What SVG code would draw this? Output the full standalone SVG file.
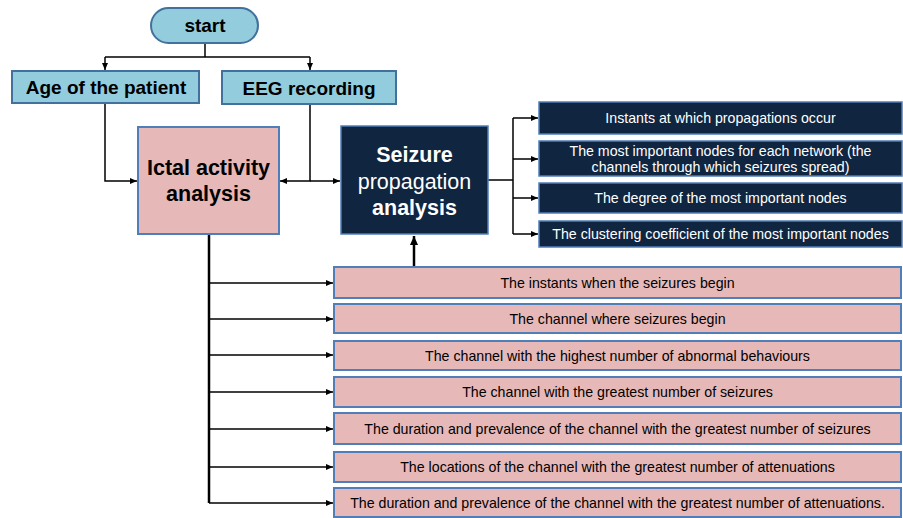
<svg xmlns="http://www.w3.org/2000/svg" width="903" height="518" viewBox="0 0 903 518">
<defs>
<marker id="ah" markerWidth="8" markerHeight="8" refX="7" refY="4" orient="auto" markerUnits="userSpaceOnUse">
<path d="M0,1 L7,4 L0,7 Z" fill="#000"/>
</marker>
<marker id="ahb" markerWidth="10" markerHeight="10" refX="9" refY="5" orient="auto" markerUnits="userSpaceOnUse">
<path d="M0,1 L9,5 L0,9 Z" fill="#000"/>
</marker>
<style>
.blue{fill:#93CDDD;stroke:#41719C;stroke-width:2}
.pink{fill:#E6B9B8;stroke:#4F7EB8;stroke-width:2}
.navy{fill:#10253F;stroke:#4F7EB8;stroke-width:1.5}
.t{font-family:"Liberation Sans",Arial,sans-serif;text-anchor:middle;dominant-baseline:central}
.tb{font-weight:bold;fill:#000}
.lbl{font-size:14.2px;fill:#000}
.wl{font-size:14.2px;fill:#fff}
.big{font-size:21.5px}
.hd{font-size:19px}
.ln{fill:none;stroke:#000;stroke-width:1.5}
.thick{fill:none;stroke:#000;stroke-width:2.5}
</style>
</defs>
<rect width="903" height="518" fill="#fff"/>
<g id="connectors">
<path class="ln" d="M205,43 V57"/>
<path class="ln" d="M105,57 H310"/>
<path class="ln" d="M105,57 V70" marker-end="url(#ah)"/>
<path class="ln" d="M310,57 V70" marker-end="url(#ah)"/>
<path class="ln" d="M105,103 V181 H137" marker-end="url(#ah)"/>
<path class="ln" d="M310,104 V181 H280" marker-end="url(#ah)"/>
<path class="ln" d="M310,181 H340" marker-end="url(#ah)"/>
<path class="ln" d="M488,180 H513"/>
<path class="ln" d="M513,118 V234"/>
<path class="ln" d="M513,118 H538" marker-end="url(#ah)"/>
<path class="ln" d="M513,159 H538" marker-end="url(#ah)"/>
<path class="ln" d="M513,198 H538" marker-end="url(#ah)"/>
<path class="ln" d="M513,234 H538" marker-end="url(#ah)"/>
<path class="thick" d="M209,234 V503"/>
<path class="ln" d="M209,283 H333" marker-end="url(#ah)"/>
<path class="ln" d="M209,319 H333" marker-end="url(#ah)"/>
<path class="ln" d="M209,355 H333" marker-end="url(#ah)"/>
<path class="ln" d="M209,392 H333" marker-end="url(#ah)"/>
<path class="ln" d="M209,429 H333" marker-end="url(#ah)"/>
<path class="ln" d="M209,467 H333" marker-end="url(#ah)"/>
<path class="ln" d="M209,503 H333" marker-end="url(#ah)"/>
<path class="thick" d="M414,267 V236" marker-end="url(#ahb)"/>
</g>
<g id="start">
<rect class="blue" x="151" y="8" width="107" height="35" rx="17.5"/>
<text class="t tb hd" x="205" y="25.5">start</text>
</g>
<g id="age">
<rect class="blue" x="12" y="71" width="187" height="32"/>
<text class="t tb hd" x="106" y="87.5">Age of the patient</text>
</g>
<g id="eeg">
<rect class="blue" x="222" y="71" width="174" height="33"/>
<text class="t tb hd" x="309" y="88">EEG recording</text>
</g>
<g id="ictal">
<rect class="pink" x="138" y="127" width="141" height="107"/>
<text class="t tb big" x="208.5" y="168">Ictal activity</text>
<text class="t tb big" x="208.5" y="194">analysis</text>
</g>
<g id="seizure">
<rect class="navy" x="341" y="126" width="147" height="108"/>
<text class="t big" x="414.5" y="155" fill="#fff" font-weight="bold">Seizure</text>
<text class="t big" x="414.5" y="182" fill="#fff">propagation</text>
<text class="t big" x="414.5" y="208" fill="#fff" font-weight="bold">analysis</text>
</g>
<g id="r1">
<rect class="navy" x="539" y="102" width="363" height="32"/>
<text class="t wl" x="720.5" y="118">Instants at which propagations occur</text>
</g>
<g id="r2">
<rect class="navy" x="539" y="141" width="363" height="35"/>
<text class="t wl" x="720.5" y="151">The most important nodes for each network (the</text>
<text class="t wl" x="720.5" y="167">channels through which seizures spread)</text>
</g>
<g id="r3">
<rect class="navy" x="539" y="183" width="363" height="30"/>
<text class="t wl" x="720.5" y="198">The degree of the most important nodes</text>
</g>
<g id="r4">
<rect class="navy" x="539" y="221" width="363" height="26"/>
<text class="t wl" x="720.5" y="234">The clustering coefficient of the most important nodes</text>
</g>
<g id="b1">
<rect class="pink" x="334" y="267" width="567" height="31"/>
<text class="t lbl" x="617.5" y="283">The instants when the seizures begin</text>
</g>
<g id="b2">
<rect class="pink" x="334" y="304" width="567" height="29"/>
<text class="t lbl" x="617.5" y="319">The channel where seizures begin</text>
</g>
<g id="b3">
<rect class="pink" x="334" y="341" width="567" height="29"/>
<text class="t lbl" x="617.5" y="355.5">The channel with the highest number of abnormal behaviours</text>
</g>
<g id="b4">
<rect class="pink" x="334" y="377" width="567" height="30"/>
<text class="t lbl" x="617.5" y="392">The channel with the greatest number of seizures</text>
</g>
<g id="b5">
<rect class="pink" x="334" y="413" width="567" height="31"/>
<text class="t lbl" x="617.5" y="429">The duration and prevalence of the channel with the greatest number of seizures</text>
</g>
<g id="b6">
<rect class="pink" x="334" y="452" width="567" height="30"/>
<text class="t lbl" x="617.5" y="467">The locations of the channel with the greatest number of attenuations</text>
</g>
<g id="b7">
<rect class="pink" x="334" y="488" width="567" height="29"/>
<text class="t lbl" x="617.5" y="503">The duration and prevalence of the channel with the greatest number of attenuations.</text>
</g>
</svg>
